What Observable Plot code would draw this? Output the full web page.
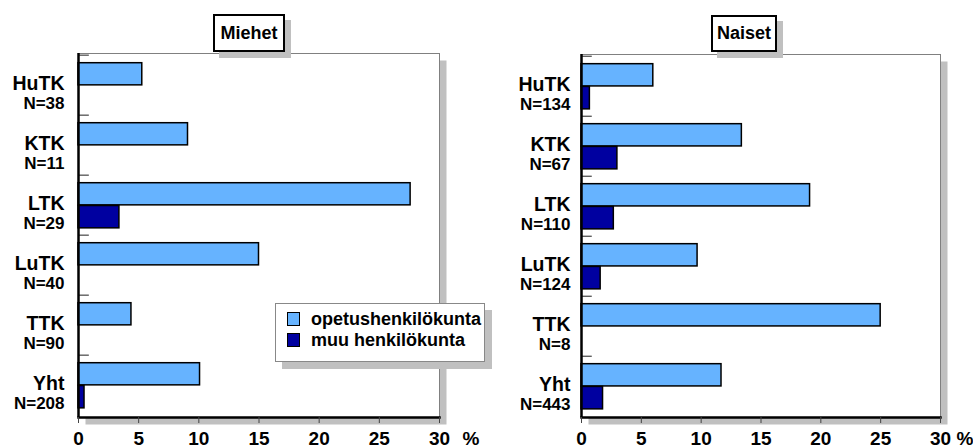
<!DOCTYPE html>
<html><head><meta charset="utf-8">
<script src="https://cdn.jsdelivr.net/npm/d3@7"></script>
<script src="https://cdn.jsdelivr.net/npm/@observablehq/plot@0.6"></script>
<style>
body{margin:0;background:#fff;font-family:"Liberation Sans",Arial,sans-serif;}
#wrap{position:relative;width:973px;height:448px;overflow:hidden;background:#fff;}
#charts{display:flex;position:absolute;left:0;top:0;}
.title{position:absolute;background:#fff;border:2px solid #000;box-shadow:6px 6px 0 #c0c0c0;font-weight:bold;font-size:18px;display:flex;align-items:center;justify-content:center;box-sizing:border-box;color:#000;}
.legend{position:absolute;left:275px;top:303px;width:210px;height:59px;box-sizing:border-box;background:#fff;border:1.5px solid #888;box-shadow:7px 7px 0 #c0c0c0;}
.legend .row{position:absolute;left:11px;height:22px;display:flex;align-items:center;font-weight:bold;font-size:18px;color:#000;white-space:nowrap;}
.legend .sw{width:13px;height:14px;border:1px solid #000;margin-right:11px;box-sizing:border-box;}
</style></head>
<body><div id="wrap"><div id="charts"></div></div>
<script>
const categories = ["HuTK", "KTK", "LTK", "LuTK", "TTK", "Yht"];
const panelTitles = ["Miehet", "Naiset"];
const seriesNames = ["opetushenkilökunta", "muu henkilökunta"];
const nMiehet = [38, 11, 29, 40, 90, 208];
const nNaiset = [134, 67, 110, 124, 8, 443];
const miehetOpetus = [5.3, 9.1, 27.6, 15.0, 4.4, 10.1];
const miehetMuu = [0, 0, 3.4, 0, 0, 0.5];
const naisetOpetus = [6.0, 13.4, 19.1, 9.7, 25.0, 11.7];
const naisetMuu = [0.7, 3.0, 2.7, 1.6, 0, 1.8];
const xTicks = [0, 5, 10, 15, 20, 25, 30];
const xUnit = "%";

const colors = ["#66b3ff", "#0000a0"];
const FONT = "Liberation Sans, Arial, sans-serif";

function panel({opetus, muu, ns, width, marginLeft, marginRight, marginTop, labelDx, pctDx}) {
  const rows = categories.map((c, i) => ({cat: c, n: "N=" + ns[i], opetus: opetus[i], muu: muu[i]}));
  const marginBottom = 31;
  const plotH = 448 - marginTop - marginBottom;
  const band = plotH / categories.length;
  const a = 0.127 * band, b = 0.503 * band, c = 0.882 * band;
  return Plot.plot({
    width, height: 448, marginLeft, marginRight, marginTop, marginBottom,
    style: {fontFamily: FONT, color: "black", background: "transparent"},
    x: {domain: [0, 30], axis: null},
    y: {type: "band", domain: categories, padding: 0, axis: null},
    marks: [
      Plot.frame({fill: "#c0c0c0", stroke: null, dx: 7, dy: 7}),
      Plot.frame({fill: "white", stroke: "#808080", strokeWidth: 1}),
      Plot.ruleY(categories, {y: d => d, x1: 0, x2: 0.9, dy: -band / 2, stroke: "#444", strokeWidth: 1.2}),
      Plot.barX(rows.filter(d => d.opetus > 0), {x: "opetus", y: "cat", fill: colors[0], stroke: "black", strokeWidth: 1.5, insetTop: a, insetBottom: band - b}),
      Plot.barX(rows.filter(d => d.muu > 0), {x: "muu", y: "cat", fill: colors[1], stroke: "black", strokeWidth: 1.5, insetTop: b, insetBottom: band - c}),
      Plot.ruleX([0], {stroke: "black", strokeWidth: 2.5}),
      Plot.frame({anchor: "bottom", stroke: "black", strokeWidth: 2.5}),
      Plot.axisX({ticks: xTicks, tickSize: 6, tickPadding: 8, fontSize: 19, fontWeight: "bold", label: null, stroke: "#444"}),
      Plot.text(rows, {y: "cat", text: "cat", frameAnchor: "left", textAnchor: "end", dx: labelDx, dy: -2, fontSize: 19.5, fontWeight: "bold"}),
      Plot.text(rows, {y: "cat", text: "n", frameAnchor: "left", textAnchor: "end", dx: labelDx, dy: 18.5, fontSize: 17, fontWeight: "bold"}),
      Plot.text([xUnit], {text: d => d, frameAnchor: "bottom-right", textAnchor: "start", lineAnchor: "top", dx: pctDx, dy: 14, fontSize: 19, fontWeight: "bold"})
    ]
  });
}

const charts = document.getElementById("charts");
charts.appendChild(panel({opetus: miehetOpetus, muu: miehetMuu, ns: nMiehet, width: 486, marginLeft: 78, marginRight: 47, marginTop: 53, labelDx: -14, pctDx: 23}));
charts.appendChild(panel({opetus: naisetOpetus, muu: naisetMuu, ns: nNaiset, width: 487, marginLeft: 95, marginRight: 33, marginTop: 54, labelDx: -11, pctDx: 16}));

const wrap = document.getElementById("wrap");
const titleBoxes = [{left: 213, top: 14, width: 72, height: 38}, {left: 711, top: 15, width: 66, height: 37}];
panelTitles.forEach((t, i) => {
  const d = document.createElement("div");
  d.className = "title";
  Object.assign(d.style, {left: titleBoxes[i].left + "px", top: titleBoxes[i].top + "px", width: titleBoxes[i].width + "px", height: titleBoxes[i].height + "px"});
  d.textContent = t;
  wrap.appendChild(d);
});

const leg = document.createElement("div");
leg.className = "legend";
seriesNames.forEach((s, i) => {
  const r = document.createElement("div");
  r.className = "row";
  r.style.top = (4 + i * 21) + "px";
  const sw = document.createElement("div");
  sw.className = "sw";
  sw.style.background = colors[i];
  r.appendChild(sw);
  r.appendChild(document.createTextNode(s));
  leg.appendChild(r);
});
wrap.appendChild(leg);
</script>
</body></html>
